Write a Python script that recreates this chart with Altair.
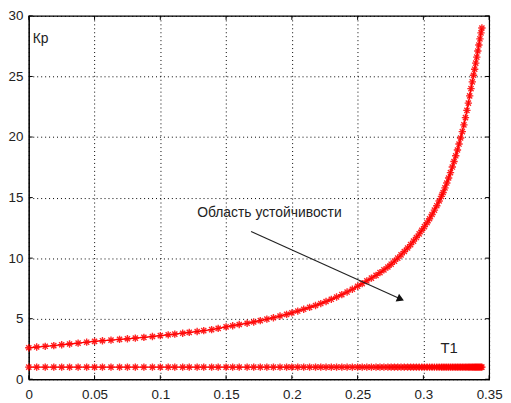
import altair as alt
import pandas as pd

# T1 values (x) and Kp values (upper curve)
t1 = [0, 0.006, 0.0125, 0.019, 0.025, 0.031, 0.0375, 0.044, 0.05, 0.056, 0.0625, 0.069, 0.075, 0.081, 0.0875, 0.094,
      0.1, 0.106, 0.111, 0.117, 0.122, 0.128, 0.133, 0.139, 0.144, 0.15, 0.155, 0.16, 0.166, 0.171, 0.176, 0.181, 0.186, 0.191, 0.196,
      0.2, 0.2045, 0.209, 0.2135, 0.218, 0.222, 0.226, 0.23, 0.234, 0.238, 0.242, 0.246, 0.25,
      0.2535, 0.257, 0.2605, 0.264, 0.267, 0.27, 0.273, 0.2755, 0.278, 0.2805, 0.283, 0.2855, 0.288, 0.2903, 0.2925, 0.2947, 0.2968, 0.2988,
      0.3008, 0.3028, 0.3047, 0.3066, 0.3084, 0.3102, 0.312, 0.3137, 0.315, 0.3164, 0.3178, 0.3192, 0.3206, 0.322, 0.3233, 0.3246, 0.3259, 0.3271, 0.3283, 0.3296,
      0.3308, 0.332, 0.3331, 0.3342, 0.3352, 0.3362, 0.3372, 0.3381, 0.339, 0.3398, 0.3406, 0.3414, 0.3422, 0.343, 0.3438, 0.3445]
kp = [2.60, 2.66, 2.72, 2.78, 2.85, 2.91, 2.98, 3.06, 3.13, 3.18, 3.23, 3.29, 3.34, 3.40, 3.46, 3.53,
      3.60, 3.67, 3.73, 3.80, 3.87, 3.94, 4.01, 4.10, 4.20, 4.32, 4.42, 4.52, 4.62, 4.73, 4.84, 4.96, 5.08, 5.22, 5.36,
      5.48, 5.63, 5.78, 5.93, 6.09, 6.25, 6.42, 6.60, 6.79, 6.99, 7.20, 7.43, 7.68,
      7.90, 8.12, 8.35, 8.58, 8.80, 9.03, 9.27, 9.50, 9.75, 10.0, 10.27, 10.55, 10.84, 11.12, 11.40, 11.70, 12.00, 12.30,
      12.6, 12.92, 13.25, 13.6, 13.96, 14.33, 14.72, 15.1, 15.42, 15.8, 16.2, 16.62, 17.06, 17.52, 17.98, 18.45, 18.93, 19.42, 19.92, 20.45,
      21.0, 21.6, 22.2, 22.8, 23.4, 24.0, 24.55, 25.1, 25.6, 26.1, 26.6, 27.1, 27.6, 28.1, 28.6, 29.0]
# lower series: constant level
low_level = [1.0] * len(t1)

x_ticks = [0, 0.05, 0.1, 0.15, 0.2, 0.25, 0.3, 0.35]
y_ticks = [0, 5, 10, 15, 20, 25, 30]

# annotations
label_texts = ["Кр", "T1", "Область устойчивости"]
label_x = [0.003, 0.313, 0.128]
label_y = [28.1, 2.6, 13.7]
label_size = [14, 15, 14]
arrow_x = [0.169, 0.2827]
arrow_y = [12.2, 6.62]

W, H = 465, 367

df = pd.DataFrame({"T1": t1 + t1, "K": kp + low_level,
                   "s": ["up"] * len(t1) + ["low"] * len(t1)})
df_lab = pd.DataFrame({"x": label_x, "y": label_y, "t": label_texts, "fs": label_size})
df_arrow = pd.DataFrame({"x": arrow_x, "y": arrow_y})
df_head = df_arrow.iloc[[1]]
df_xt = pd.DataFrame({"v": x_ticks})
df_yt = pd.DataFrame({"v": y_ticks})

xs = alt.Scale(domain=[0, 0.35], nice=False, zero=False)
ys = alt.Scale(domain=[0, 30], nice=False)

common = dict(title=None, grid=True, tickSize=0,
              gridDash=[1, 3], gridColor="#000000", gridOpacity=1, gridWidth=1,
              domainColor="#000000", labelFont="Liberation Sans", labelFontSize=13.5,
              labelColor="#222222", labelFlush=False)
xax = alt.Axis(values=x_ticks, format="~g", labelPadding=8, **common)
yax = alt.Axis(values=y_ticks, labelPadding=6, **common)

star = "M-1,0L1,0M0,-1L0,1M-0.7,-0.7L0.7,0.7M-0.7,0.7L0.7,-0.7"

base = alt.Chart(df)
lines = base.mark_line(color="#ff0000", strokeWidth=1.3).encode(
    x=alt.X("T1:Q", scale=xs, axis=xax),
    y=alt.Y("K:Q", scale=ys, axis=yax),
    detail="s:N")
pts = base.mark_point(shape=star, color="#ff0000", filled=False, strokeWidth=1.4, size=55, opacity=0.85).encode(
    x=alt.X("T1:Q", scale=xs), y=alt.Y("K:Q", scale=ys))

labels = alt.Chart(df_lab).mark_text(align="left", baseline="middle", font="Liberation Sans",
                                     color="#222222").encode(
    x=alt.X("x:Q", scale=xs), y=alt.Y("y:Q", scale=ys), text="t:N",
    size=alt.Size("fs:Q", scale=None, legend=None))

arrow = alt.Chart(df_arrow).mark_line(color="#222222", strokeWidth=1.2).encode(
    x=alt.X("x:Q", scale=xs), y=alt.Y("y:Q", scale=ys))
head = alt.Chart(df_head).mark_point(shape="triangle-right", filled=True, color="#111111",
                                     size=70, angle=24, opacity=1).encode(
    x=alt.X("x:Q", scale=xs), y=alt.Y("y:Q", scale=ys))

# inward tick marks on all four sides (MATLAB box style)
tk = 4
xt_bot = alt.Chart(df_xt).mark_rule(color="#000000", strokeWidth=1).encode(
    x=alt.X("v:Q", scale=xs), y=alt.value(H), y2=alt.value(H - tk))
xt_top = alt.Chart(df_xt).mark_rule(color="#000000", strokeWidth=1).encode(
    x=alt.X("v:Q", scale=xs), y=alt.value(0), y2=alt.value(tk))
yt_left = alt.Chart(df_yt).mark_rule(color="#000000", strokeWidth=1).encode(
    y=alt.Y("v:Q", scale=ys), x=alt.value(0), x2=alt.value(tk))
yt_right = alt.Chart(df_yt).mark_rule(color="#000000", strokeWidth=1).encode(
    y=alt.Y("v:Q", scale=ys), x=alt.value(W), x2=alt.value(W - tk))

chart = alt.layer(lines, pts, arrow, head, labels, xt_bot, xt_top, yt_left, yt_right).properties(
    width=W, height=H,
    autosize=alt.AutoSizeParams(type="none"),
    padding={"left": 21, "top": 6, "right": 14, "bottom": 22},
    background="white",
).configure_view(stroke="#000000", strokeWidth=1.2)

chart.save("out.html", embed_options={"renderer": "svg", "actions": False})
